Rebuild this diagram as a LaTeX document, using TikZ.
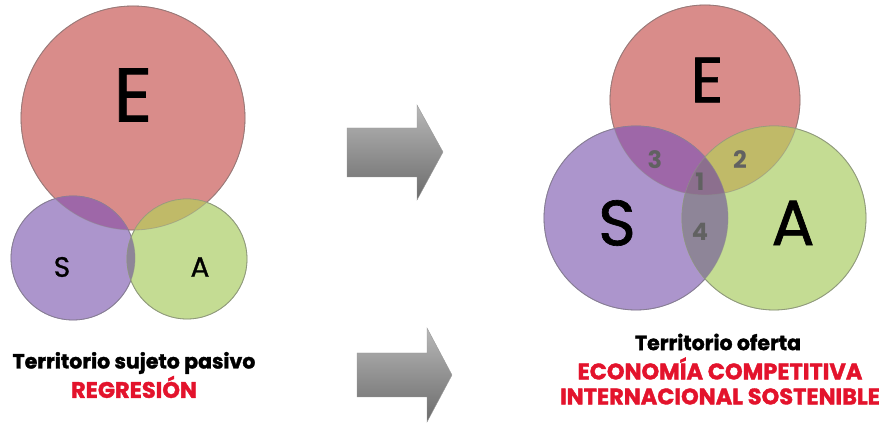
\documentclass[tikz,border=0pt]{standalone}
\usepackage{fontspec}
\setmainfont{Poppins}
\newfontfamily\heavyfont{Poppins}[UprightFeatures={FakeBold=1}, BoldFeatures={FakeBold=1.6}]
\definecolor{colE}{HTML}{D98C8A}
\definecolor{colS}{HTML}{AC95CC}
\definecolor{colA}{HTML}{C4DC93}
\definecolor{colES}{HTML}{9E67A8}
\definecolor{colEA}{HTML}{C0BA68}
\definecolor{colSA}{HTML}{8E8598}
\definecolor{colESA}{HTML}{8C6F8E}
\definecolor{redtxt}{HTML}{E3132C}
\tikzset{
    set-e/.style = {fill=colE, draw=colE!75!black, line width=0.8pt},
    set-s/.style = {fill=colS, draw=colS!75!black, line width=0.8pt},
    set-a/.style = {fill=colA, draw=colA!75!black, line width=0.8pt},
    rim/.style = {draw=black!45, draw opacity=0.5, line width=0.8pt},
    big-letter/.style = {font=\heavyfont\fontsize{64}{64}\selectfont},
    small-letter/.style = {font=\heavyfont\fontsize{28}{28}\selectfont},
    num/.style = {text=black!62, font=\bfseries\fontsize{24}{24}\selectfont},
    caption/.style = {font=\heavyfont\bfseries\fontsize{20.5}{25}\selectfont, align=center, inner sep=0pt},
    caption-red/.style = {caption, text=redtxt, font=\heavyfont\bfseries\fontsize{22.5}{25}\selectfont},
    arrow-box/.style = {top color=black!28, bottom color=black!58, draw=black!40},
}
\begin{document}
\begin{tikzpicture}[x=1pt, y=-1pt]
\useasboundingbox (0,0) rectangle (881,427);
% left: passive territory
\filldraw[set-e] (133,118) circle (112pt);
\filldraw[set-s] (73,258) circle (62pt);
\filldraw[set-a] (187,259) circle (60pt);
\begin{scope}
    \clip (133,118) circle (112pt);
    \fill[colES] (73,258) circle (62pt);
    \fill[colEA] (187,259) circle (60pt);
\end{scope}
\begin{scope}
    \clip (73,258) circle (62pt);
    \fill[colSA] (187,259) circle (60pt);
\end{scope}
\draw[rim] (133,118) circle (112pt) (73,258) circle (62pt) (187,259) circle (60pt);
\node[font=\heavyfont\fontsize{76}{76}\selectfont] (e-left) at (133,95) {E};
\node[small-letter] (s-left) at (62,267) {S};
\node[small-letter] (a-left) at (200,267) {A};
\node[caption] (cap-left) at (134,363) {Territorio sujeto pasivo};
\node[caption-red] (res-left) at (134,387) {REGRESIÓN};
% arrows
\shade[arrow-box] (347,128) -- (417,128) -- (417,105) -- (443,152) -- (417,200) -- (417,177) -- (347,177) -- cycle;
\shade[arrow-box] (357,353) -- (427,353) -- (427,328) -- (452,375) -- (427,422) -- (427,397) -- (357,397) -- cycle;
% right: offer territory
\filldraw[set-e] (705,100) circle (95pt);
\filldraw[set-s] (636,218) circle (92pt);
\filldraw[set-a] (774,218) circle (92pt);
\begin{scope}
    \clip (705,100) circle (95pt);
    \fill[colES] (636,218) circle (92pt);
    \fill[colEA] (774,218) circle (92pt);
\end{scope}
\begin{scope}
    \clip (636,218) circle (92pt);
    \fill[colSA] (774,218) circle (92pt);
    \clip (774,218) circle (92pt);
    \fill[colESA] (705,100) circle (95pt);
\end{scope}
\draw[rim] (705,100) circle (95pt) (636,218) circle (92pt) (774,218) circle (92pt);
\node[big-letter] (e-right) at (707,80) {E};
\node[big-letter] (s-right) at (617,223) {S};
\node[big-letter] (a-right) at (793,223) {A};
\node[num] (n3) at (655,160) {3};
\node[num] (n2) at (740,160) {2};
\node[num] (n1) at (700,182) {1};
\node[num] (n4) at (700,232) {4};
\node[caption] (cap-right) at (718,342) {Territorio oferta};
\node[caption-red] (res-right) at (720,381) {ECONOMÍA COMPETITIVA\\INTERNACIONAL SOSTENIBLE};
\end{tikzpicture}
\end{document}
